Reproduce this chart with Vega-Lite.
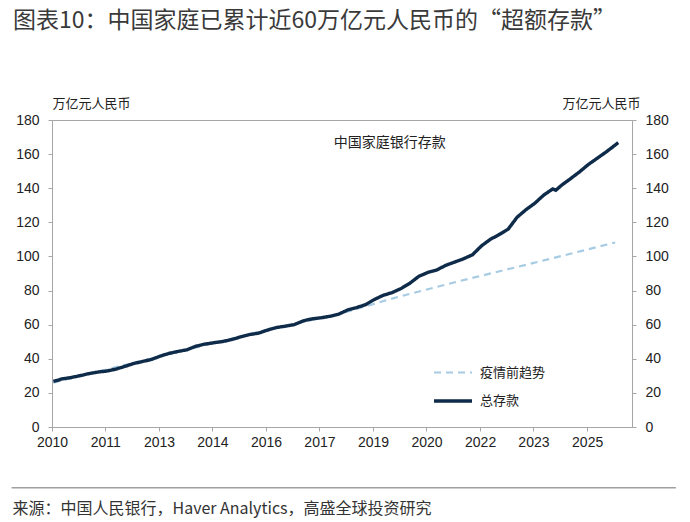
{
  "$schema": "https://vega.github.io/schema/vega-lite/v6.json",
  "width": 580,
  "height": 307,
  "autosize": {"type": "none"},
  "padding": {"left": 52, "top": 120, "right": 58, "bottom": 95},
  "background": "white",
  "config": {
    "view": {"stroke": "#a6a6a6", "strokeWidth": 1},
    "font": "Liberation Sans"
  },
  "title": {
    "text": "图表10：中国家庭已累计近60万亿元人民币的“超额存款”",
    "anchor": "start",
    "frame": "group",
    "dx": -39,
    "offset": 64,
    "fontSize": 23,
    "font": "Noto Sans CJK SC",
    "fontWeight": "normal",
    "color": "#3a3a3a"
  },
  "datasets": {
    "series": [
      {"date": "2010-01-15", "value": 26.0, "series": "疫情前趋势"},
      {"date": "2013-01-15", "value": 41.5, "series": "疫情前趋势"},
      {"date": "2016-01-15", "value": 57.0, "series": "疫情前趋势"},
      {"date": "2018-01-15", "value": 66.2, "series": "疫情前趋势"},
      {"date": "2019-09-15", "value": 76.3, "series": "疫情前趋势"},
      {"date": "2021-06-15", "value": 85.7, "series": "疫情前趋势"},
      {"date": "2023-11-15", "value": 98.1, "series": "疫情前趋势"},
      {"date": "2025-10-15", "value": 108.2, "series": "疫情前趋势"},
      {"date": "2010-01-15", "value": 26.7, "series": "总存款"},
      {"date": "2010-04-15", "value": 28.2, "series": "总存款"},
      {"date": "2010-07-15", "value": 29.0, "series": "总存款"},
      {"date": "2010-10-15", "value": 30.1, "series": "总存款"},
      {"date": "2011-01-15", "value": 31.3, "series": "总存款"},
      {"date": "2011-04-15", "value": 32.2, "series": "总存款"},
      {"date": "2011-07-15", "value": 32.8, "series": "总存款"},
      {"date": "2011-10-15", "value": 33.9, "series": "总存款"},
      {"date": "2012-01-15", "value": 35.5, "series": "总存款"},
      {"date": "2012-04-15", "value": 37.2, "series": "总存款"},
      {"date": "2012-07-15", "value": 38.4, "series": "总存款"},
      {"date": "2012-10-15", "value": 39.6, "series": "总存款"},
      {"date": "2013-01-15", "value": 41.6, "series": "总存款"},
      {"date": "2013-04-15", "value": 43.2, "series": "总存款"},
      {"date": "2013-07-15", "value": 44.3, "series": "总存款"},
      {"date": "2013-10-15", "value": 45.3, "series": "总存款"},
      {"date": "2014-01-15", "value": 47.4, "series": "总存款"},
      {"date": "2014-04-15", "value": 48.6, "series": "总存款"},
      {"date": "2014-07-15", "value": 49.4, "series": "总存款"},
      {"date": "2014-10-15", "value": 50.1, "series": "总存款"},
      {"date": "2015-01-15", "value": 51.3, "series": "总存款"},
      {"date": "2015-04-15", "value": 52.8, "series": "总存款"},
      {"date": "2015-07-15", "value": 54.2, "series": "总存款"},
      {"date": "2015-10-15", "value": 55.0, "series": "总存款"},
      {"date": "2016-01-15", "value": 56.8, "series": "总存款"},
      {"date": "2016-04-15", "value": 58.3, "series": "总存款"},
      {"date": "2016-07-15", "value": 59.1, "series": "总存款"},
      {"date": "2016-10-15", "value": 60.0, "series": "总存款"},
      {"date": "2017-01-15", "value": 62.2, "series": "总存款"},
      {"date": "2017-04-15", "value": 63.4, "series": "总存款"},
      {"date": "2017-07-15", "value": 64.0, "series": "总存款"},
      {"date": "2017-10-15", "value": 64.9, "series": "总存款"},
      {"date": "2018-01-15", "value": 66.2, "series": "总存款"},
      {"date": "2018-04-15", "value": 68.6, "series": "总存款"},
      {"date": "2018-07-15", "value": 70.0, "series": "总存款"},
      {"date": "2018-10-15", "value": 71.7, "series": "总存款"},
      {"date": "2019-01-15", "value": 74.8, "series": "总存款"},
      {"date": "2019-04-15", "value": 77.2, "series": "总存款"},
      {"date": "2019-07-15", "value": 78.8, "series": "总存款"},
      {"date": "2019-10-15", "value": 81.2, "series": "总存款"},
      {"date": "2020-01-15", "value": 84.4, "series": "总存款"},
      {"date": "2020-04-15", "value": 88.4, "series": "总存款"},
      {"date": "2020-07-15", "value": 90.6, "series": "总存款"},
      {"date": "2020-10-15", "value": 92.1, "series": "总存款"},
      {"date": "2021-01-15", "value": 94.8, "series": "总存款"},
      {"date": "2021-04-15", "value": 96.7, "series": "总存款"},
      {"date": "2021-07-15", "value": 98.6, "series": "总存款"},
      {"date": "2021-10-15", "value": 101.0, "series": "总存款"},
      {"date": "2022-01-15", "value": 106.2, "series": "总存款"},
      {"date": "2022-04-15", "value": 110.0, "series": "总存款"},
      {"date": "2022-07-15", "value": 112.8, "series": "总存款"},
      {"date": "2022-10-15", "value": 116.0, "series": "总存款"},
      {"date": "2023-01-15", "value": 123.0, "series": "总存款"},
      {"date": "2023-04-15", "value": 127.4, "series": "总存款"},
      {"date": "2023-07-15", "value": 131.2, "series": "总存款"},
      {"date": "2023-10-15", "value": 136.0, "series": "总存款"},
      {"date": "2023-12-15", "value": 138.4, "series": "总存款"},
      {"date": "2024-01-15", "value": 139.6, "series": "总存款"},
      {"date": "2024-02-15", "value": 138.8, "series": "总存款"},
      {"date": "2024-04-15", "value": 141.8, "series": "总存款"},
      {"date": "2024-07-15", "value": 145.6, "series": "总存款"},
      {"date": "2024-10-15", "value": 149.6, "series": "总存款"},
      {"date": "2025-01-15", "value": 154.0, "series": "总存款"},
      {"date": "2025-04-15", "value": 157.6, "series": "总存款"},
      {"date": "2025-07-15", "value": 161.3, "series": "总存款"},
      {"date": "2025-09-15", "value": 164.0, "series": "总存款"},
      {"date": "2025-11-15", "value": 166.7, "series": "总存款"}
    ]
  },
  "layer": [
    {
      "data": {"name": "series"},
      "transform": [{"filter": "datum.series === '疫情前趋势'"}],
      "mark": {"type": "line"},
      "encoding": {
        "x": {
          "field": "date",
          "type": "temporal",
          "scale": {"type": "utc", "domain": [{"year": 2010, "month": 1, "date": 1, "utc": true}, {"year": 2026, "month": 4, "date": 5, "utc": true}], "nice": false},
          "axis": {
            "values": [
              {"year": 2010, "month": 1, "date": 1, "utc": true},
              {"year": 2011, "month": 7, "date": 1, "utc": true},
              {"year": 2013, "month": 1, "date": 1, "utc": true},
              {"year": 2014, "month": 7, "date": 1, "utc": true},
              {"year": 2016, "month": 1, "date": 1, "utc": true},
              {"year": 2017, "month": 7, "date": 1, "utc": true},
              {"year": 2019, "month": 1, "date": 1, "utc": true},
              {"year": 2020, "month": 7, "date": 1, "utc": true},
              {"year": 2022, "month": 1, "date": 1, "utc": true},
              {"year": 2023, "month": 7, "date": 1, "utc": true},
              {"year": 2025, "month": 1, "date": 1, "utc": true}
            ],
            "labelExpr": "utcFormat(datum.value, '%Y')",
            "labelFlush": false,
            "labelOverlap": false,
            "grid": false,
            "labelFontSize": 14,
            "labelColor": "#222222",
            "labelPadding": 4,
            "tickSize": 4,
            "tickColor": "#a6a6a6",
            "domainColor": "#a6a6a6",
            "title": "来源：中国人民银行，Haver Analytics，高盛全球投资研究",
            "titleFont": "Noto Sans CJK SC",
            "titleFontSize": 16,
            "titleFontWeight": "normal",
            "titleColor": "#333333",
            "titleAlign": "left",
            "titleBaseline": "middle",
            "titleX": -40,
            "titleY": 81
          }
        },
        "y": {
          "field": "value",
          "type": "quantitative",
          "scale": {"domain": [0, 180], "nice": false},
          "axis": {
            "orient": "left",
            "values": [0, 20, 40, 60, 80, 100, 120, 140, 160, 180],
            "grid": false,
            "labelFontSize": 14,
            "labelColor": "#222222",
            "labelPadding": 9,
            "tickSize": 4,
            "tickColor": "#a6a6a6",
            "domainColor": "#a6a6a6",
            "title": "万亿元人民币",
            "titleFont": "Noto Sans CJK SC",
            "titleFontSize": 13,
            "titleFontWeight": "normal",
            "titleColor": "#222222",
            "titleAngle": 0,
            "titleAlign": "left",
            "titleBaseline": "middle",
            "titleX": 0,
            "titleY": -17
          }
        },
        "color": {
          "field": "series",
          "type": "nominal",
          "scale": {"domain": ["疫情前趋势", "总存款"], "range": ["#a6cbe3", "#0f2b4a"]},
          "legend": {
            "orient": "none",
            "legendX": 380,
            "legendY": 232,
            "title": null,
            "symbolType": "stroke",
            "symbolSize": 1444,
            "labelFont": "Noto Sans CJK SC",
            "labelFontSize": 13,
            "labelColor": "#222222",
            "labelOffset": 6,
            "rowPadding": 0
          }
        },
        "strokeDash": {
          "field": "series",
          "type": "nominal",
          "scale": {"domain": ["疫情前趋势", "总存款"], "range": [[7, 5], [1, 0]]}
        },
        "strokeWidth": {
          "field": "series",
          "type": "nominal",
          "scale": {"domain": ["疫情前趋势", "总存款"], "range": [2.2, 3.4]}
        }
      }
    },
    {
      "data": {"name": "series"},
      "transform": [{"filter": "datum.series === '总存款'"}],
      "mark": {"type": "line"},
      "encoding": {
        "x": {"field": "date", "type": "temporal", "axis": null},
        "y": {
          "field": "value",
          "type": "quantitative",
          "axis": {
            "orient": "right",
            "values": [0, 20, 40, 60, 80, 100, 120, 140, 160, 180],
            "grid": false,
            "labelFontSize": 14,
            "labelColor": "#222222",
            "labelPadding": 9,
            "tickSize": 4,
            "tickColor": "#a6a6a6",
            "domainColor": "#a6a6a6",
            "title": "万亿元人民币",
            "titleFont": "Noto Sans CJK SC",
            "titleFontSize": 13,
            "titleFontWeight": "normal",
            "titleColor": "#222222",
            "titleAngle": 0,
            "titleAlign": "right",
            "titleBaseline": "middle",
            "titleX": 8,
            "titleY": -17
          }
        },
        "color": {"field": "series", "type": "nominal"},
        "strokeDash": {"field": "series", "type": "nominal"},
        "strokeWidth": {"field": "series", "type": "nominal"}
      }
    },
    {
      "data": {"values": [{"label": "中国家庭银行存款"}]},
      "mark": {"type": "text", "font": "Noto Sans CJK SC", "fontSize": 14, "color": "#222222", "align": "center", "baseline": "middle"},
      "encoding": {
        "x": {"datum": {"year": 2019, "month": 6, "date": 20, "utc": true}, "type": "temporal", "axis": null},
        "y": {"datum": 166.5, "type": "quantitative", "axis": null},
        "text": {"field": "label"}
      }
    },
    {
      "data": {"values": [{"line": "separator"}]},
      "mark": {"type": "rule", "color": "#a0a0a0", "strokeWidth": 1.5},
      "encoding": {
        "x": {"datum": {"year": 2008, "month": 11, "date": 13, "utc": true}, "type": "temporal", "axis": null},
        "x2": {"datum": {"year": 2027, "month": 6, "date": 28, "utc": true}},
        "y": {"datum": -35.6, "type": "quantitative", "axis": null}
      }
    }
  ],
  "resolve": {"axis": {"y": "independent", "x": "independent"}}
}
